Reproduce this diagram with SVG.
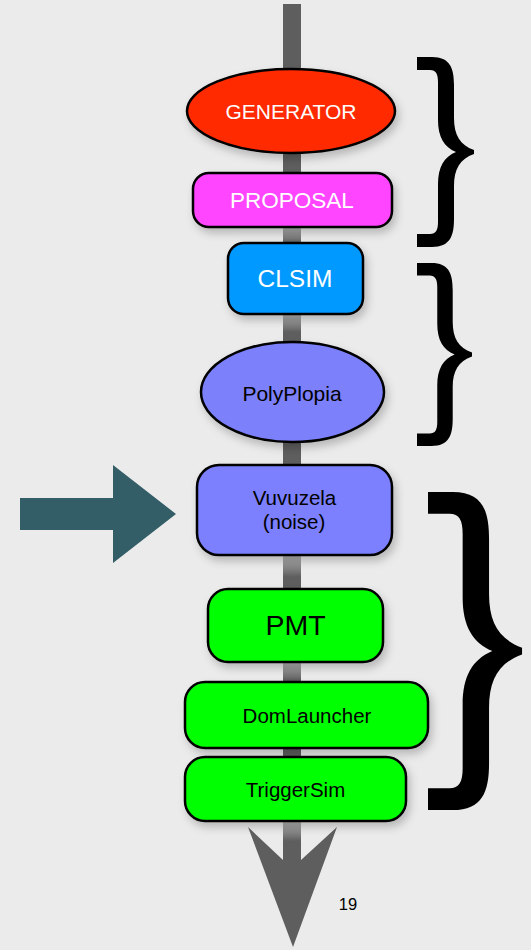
<svg xmlns="http://www.w3.org/2000/svg" xmlns:xlink="http://www.w3.org/1999/xlink" width="531" height="950" viewBox="0 0 531 950">
  <style>
    .node { stroke: #000; stroke-width: 2.5; filter: url(#shadow); }
    .lbl { font-family: "Liberation Sans", Arial, Helvetica, sans-serif; text-anchor: middle; }
    .w { fill: #fff; }
    .k { fill: #000; }
    .brace { fill: #000; }
  </style>
  <defs>
    <filter id="shadow" x="-20%" y="-30%" width="150%" height="170%">
      <feDropShadow dx="3" dy="5" stdDeviation="4" flood-color="#000" flood-opacity="0.22"/>
    </filter>
    <linearGradient id="fade" x1="0" y1="0" x2="0" y2="1">
      <stop offset="0" stop-color="#b8b8b8"/>
      <stop offset="1" stop-color="#5e5e5e"/>
    </linearGradient>
    <!-- curly brace, 57 x 190 -->
    <path id="brace" d="M0,0 H15 C33,0 37,11 37,28 V61 C37,78 43,88 57,93 V97 C43,102 37,112 37,129 V162 C37,179 33,190 15,190 H0 V177 H13 C19,177 21,173 21,165 V127 C21,110 27,100 39,95 C27,90 21,80 21,63 V25 C21,17 19,13 13,13 H0 Z"/>
  </defs>

  <rect width="531" height="950" fill="#ebebeb"/>

  <g id="connectors">
    <!-- main flow shaft with arrowhead -->
    <path d="M283,4 V860 L248,827 L293,947 L337,827 L301,860 V4 Z" fill="#5e5e5e"/>
    <rect x="283" y="227" width="18" height="16" fill="url(#fade)"/>
    <rect x="283" y="314" width="18" height="18" fill="url(#fade)"/>
    <rect x="283" y="555" width="18" height="22" fill="url(#fade)"/>
    <rect x="283" y="662" width="18" height="18" fill="url(#fade)"/>
    <rect x="283" y="821" width="18" height="20" fill="url(#fade)"/>
    <!-- noise injection arrow -->
    <path d="M20,498 H113 V465 L176,514 L113,563 V530 H20 Z" fill="#335e68"/>
  </g>

  <g id="generator">
    <ellipse class="node" cx="291" cy="111" rx="104" ry="42" fill="#ff2a00"/>
    <text class="lbl w" x="291" y="119" font-size="21">GENERATOR</text>
  </g>

  <g id="proposal">
    <rect class="node" x="193" y="173" width="199" height="54" rx="16" fill="#ff44ff"/>
    <text class="lbl w" x="292" y="208" font-size="22.5">PROPOSAL</text>
  </g>

  <g id="clsim">
    <rect class="node" x="228" y="243" width="135" height="71" rx="16" fill="#0099ff"/>
    <text class="lbl w" x="295" y="287" font-size="24.5">CLSIM</text>
  </g>

  <g id="polyplopia">
    <ellipse class="node" cx="292.5" cy="392" rx="91.5" ry="50" fill="#7b80fa"/>
    <text class="lbl k" x="292" y="401" font-size="21">PolyPlopia</text>
  </g>

  <g id="vuvuzela">
    <rect class="node" x="197" y="465" width="195" height="90" rx="22" fill="#7b80ff"/>
    <text class="lbl k" x="294.5" y="505" font-size="20.5">Vuvuzela</text>
    <text class="lbl k" x="294" y="529" font-size="20.5">(noise)</text>
  </g>

  <g id="pmt">
    <rect class="node" x="208" y="589" width="175" height="73" rx="20" fill="#00ff00"/>
    <text class="lbl k" x="295.5" y="635" font-size="28.5">PMT</text>
  </g>

  <g id="domlauncher">
    <rect class="node" x="185" y="682" width="243" height="66" rx="20" fill="#00ff00"/>
    <text class="lbl k" x="307" y="722.5" font-size="20.5">DomLauncher</text>
  </g>

  <g id="triggersim">
    <rect class="node" x="185" y="757" width="221" height="64" rx="20" fill="#00ff00"/>
    <text class="lbl k" x="295.5" y="797" font-size="20.5">TriggerSim</text>
  </g>

  <g id="braces">
    <use xlink:href="#brace" class="brace" transform="translate(417,57)"/>
    <use xlink:href="#brace" class="brace" transform="translate(417,263) scale(0.965,0.963)"/>
    <use xlink:href="#brace" class="brace" transform="translate(428,492) scale(1.65,1.674)"/>
  </g>

  <text class="lbl k" x="348" y="910" font-size="16.5">19</text>
</svg>
